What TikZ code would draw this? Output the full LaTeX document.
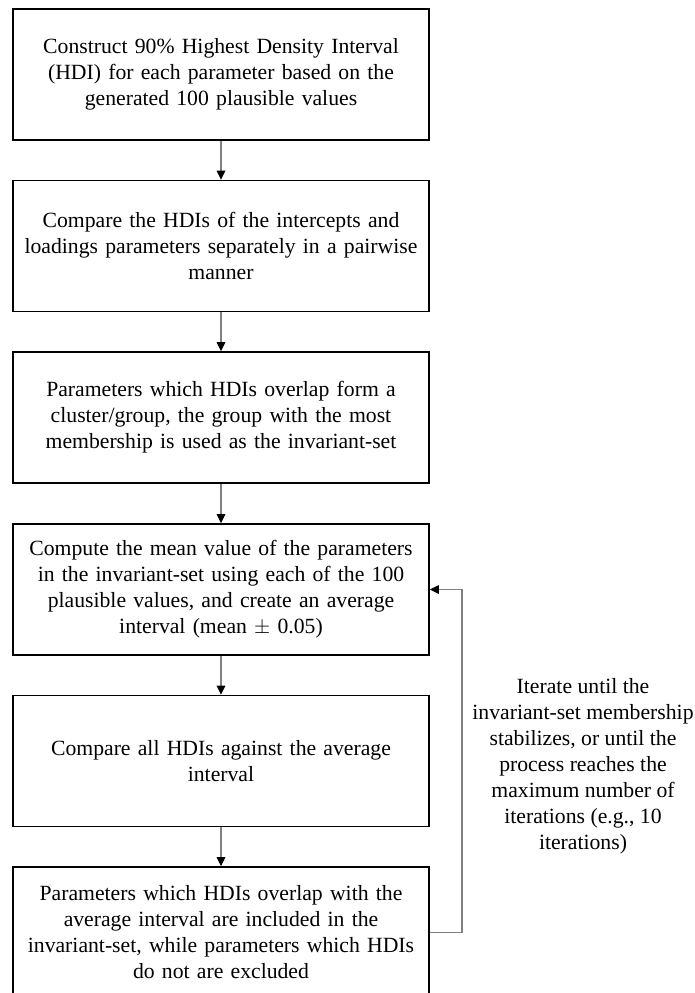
\documentclass[tikz,border=0pt]{standalone}
\usepackage{fontspec}
\setmainfont{Liberation Serif}
\usetikzlibrary{arrows.meta}

\tikzset{
  stepbox/.style={draw=black, line width=1.6pt, minimum width=416pt,
    minimum height=131pt, inner sep=0pt, text width=404pt, align=center,
    font=\fontsize{21.7pt}{26pt}\selectfont},
  note/.style={align=center, inner sep=0pt,
    font=\fontsize{21.7pt}{26pt}\selectfont},
  conn/.style={draw=gray, line width=1.1pt,
    -{Triangle[length=9pt,width=8.5pt,color=black,fill=black]}}
}

\begin{document}
\begin{tikzpicture}
\useasboundingbox (0,0) rectangle (695pt,-993pt);

\node[stepbox] (b1) at (221pt,-74.5pt)
  {Construct 90\% Highest Density Interval\\(HDI) for each parameter based on the\\generated 100 plausible values};
\node[stepbox] (b2) at (221pt,-246pt)
  {Compare the HDIs of the intercepts and\\loadings parameters separately in a pairwise\\manner};
\node[stepbox] (b3) at (221pt,-417.5pt)
  {Parameters which HDIs overlap form a\\cluster/group, the group with the most\\membership is used as the invariant-set};
\node[stepbox] (b4) at (221pt,-589.5pt)
  {Compute the mean value of the parameters\\in the invariant-set using each of the 100\\plausible values, and create an average\\interval (mean $\pm$ 0.05)};
\node[stepbox] (b5) at (221pt,-761pt)
  {Compare all HDIs against the average\\interval};
\node[stepbox] (b6) at (221pt,-932.5pt)
  {Parameters which HDIs overlap with the\\average interval are included in the\\invariant-set, while parameters which HDIs\\do not are excluded};

\draw[conn] (b1) -- (b2);
\draw[conn] (b2) -- (b3);
\draw[conn] (b3) -- (b4);
\draw[conn] (b4) -- (b5);
\draw[conn] (b5) -- (b6);

% feedback loop on the right
\coordinate (loop) at (462pt,-760pt);
\draw[conn] (b6.east) -| (loop) |- (b4.east);

\node[note] (lbl) at (583pt,-766pt)
  {Iterate until the\\invariant-set membership\\stabilizes, or until the\\process reaches the\\maximum number of\\iterations (e.g., 10\\iterations)};
\end{tikzpicture}
\end{document}
